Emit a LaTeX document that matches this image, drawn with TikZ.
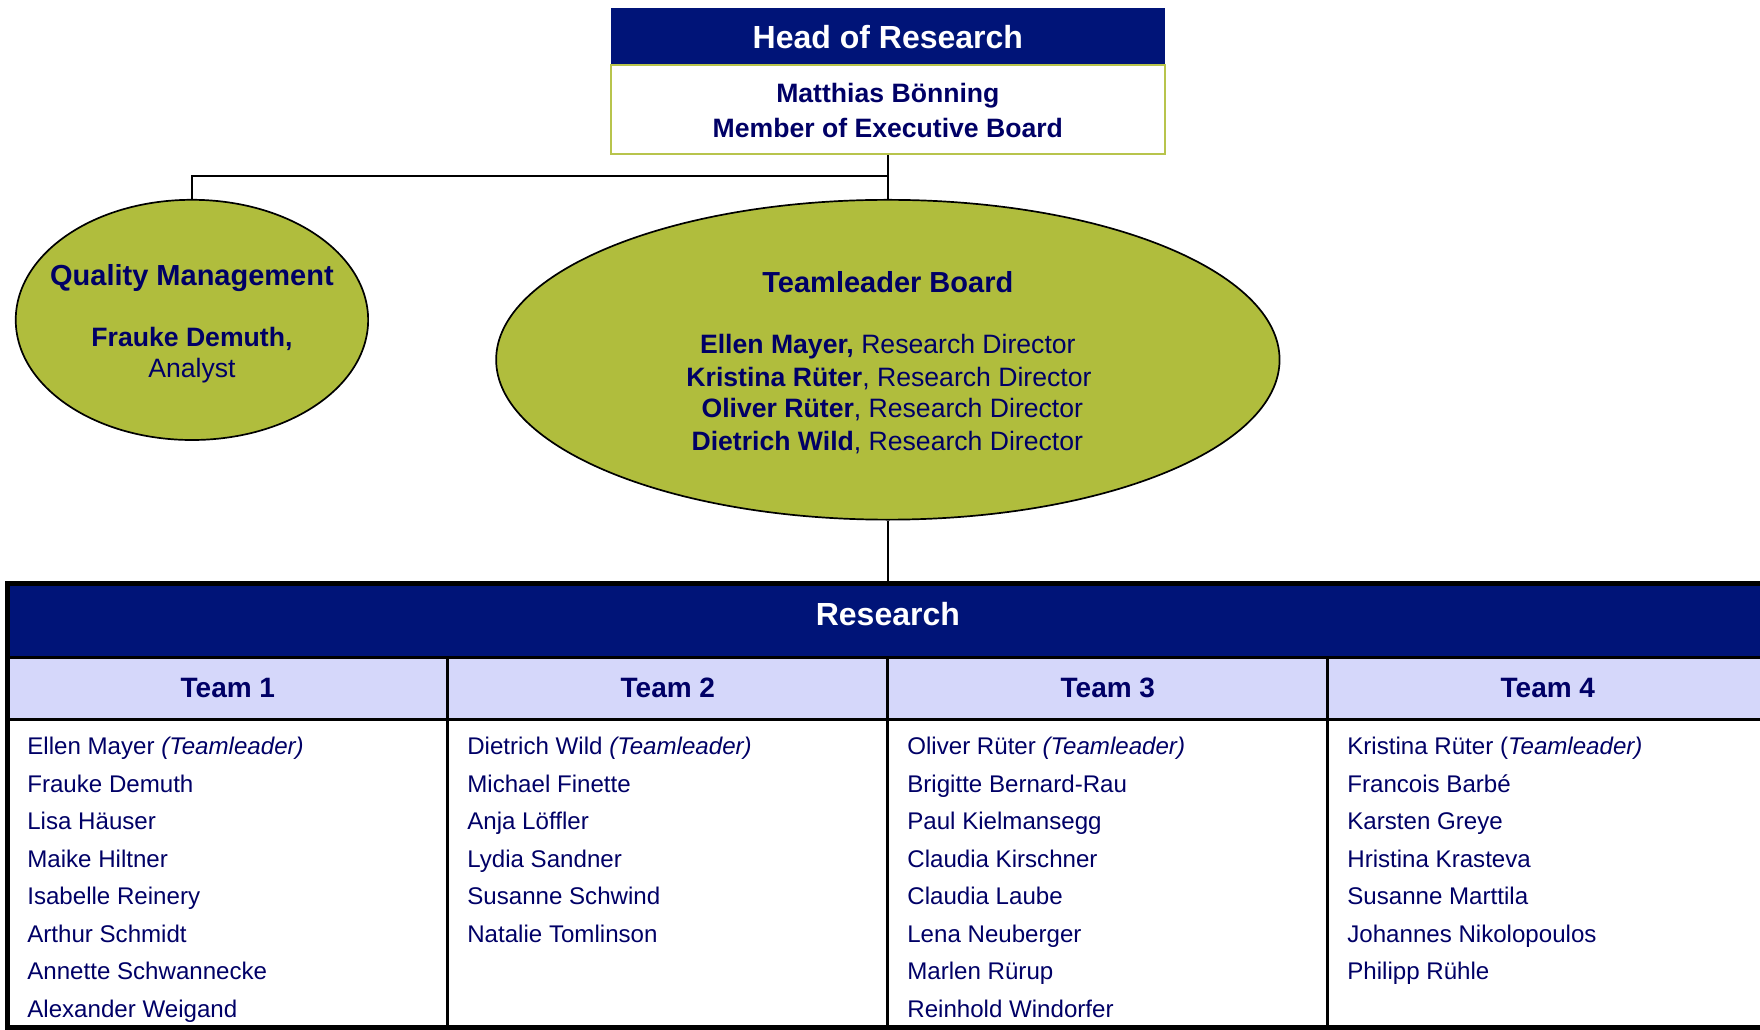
\documentclass[tikz,border=0pt]{standalone}
\usepackage{fontspec}
\setmainfont{Liberation Sans}
\usetikzlibrary{shapes.geometric}
\definecolor{navyhead}{RGB}{0,20,120}
\definecolor{navytext}{RGB}{0,0,102}
\definecolor{olivefill}{RGB}{176,189,61}
\definecolor{olivebox}{RGB}{184,196,76}
\definecolor{lavender}{RGB}{213,215,250}
\begin{document}
\begin{tikzpicture}[x=0.5612pt, y=-0.5612pt,
  conn/.style={line width=0.85pt},
  oval/.style={ellipse, draw, line width=0.85pt, fill=olivefill, inner sep=0pt},
  txt/.style={text=navytext, inner sep=0pt, anchor=base},
  bigtitle/.style={txt, text=white, font=\bfseries\fontsize{16}{19}\selectfont},
  ovaltitle/.style={txt, font=\bfseries\fontsize{14.5}{17}\selectfont},
  body/.style={txt, font=\fontsize{13.3}{16}\selectfont},
  teamtitle/.style={txt, font=\bfseries\fontsize{14}{17}\selectfont},
  member/.style={text=navytext, inner sep=0pt, anchor=base west, font=\fontsize{12.05}{15}\selectfont},
  outerline/.style={line width=2.4pt},
  innerline/.style={line width=1.4pt}]
\useasboundingbox (0,0) rectangle (1568,917);

\node[rectangle, fill=navyhead, minimum width=277.2pt, minimum height=28.6pt, inner sep=0pt] (headbar) at (791,32.5){};
\node[rectangle, draw=olivebox, fill=white, line width=1pt, minimum width=277.2pt, minimum height=44.3pt, inner sep=0pt] (headbox) at (791,97.5){};
\node[bigtitle] (headtitle) at (791,43.5){Head of Research};
\node[body, font=\bfseries\fontsize{13.3}{16}\selectfont] (headname) at (791,91.5){Matthias Bönning};
\node[body, font=\bfseries\fontsize{13.3}{16}\selectfont] (headrole) at (791,122.5){Member of Executive Board};

\node[oval, minimum width=176.2pt, minimum height=120.1pt] (qm) at (171,285){};
\node[ovaltitle] (qmtitle) at (171,254){Quality Management};
\node[body, font=\bfseries\fontsize{13.3}{16}\selectfont] (qmname) at (171,308.5){Frauke Demuth,};
\node[body] (qmrole) at (171,336.5){Analyst};

\node[oval, minimum width=391.7pt, minimum height=159.9pt] (tlb) at (791,320.5){};
\node[ovaltitle] (tlbtitle) at (791,261){Teamleader Board};
\node[body] (tlbone) at (791,315){\textbf{Ellen Mayer,} Research Director};
\node[body] (tlbtwo) at (792,344){\textbf{Kristina Rüter}, Research Director};
\node[body] (tlbthree) at (795,372){\textbf{Oliver Rüter}, Research Director};
\node[body] (tlbfour) at (790.5,401){\textbf{Dietrich Wild}, Research Director};

\coordinate (split) at (791,157);
\coordinate (tabletop) at (791,520);
\draw[conn](headbox.south) -- (split) -| (qm.north);
\draw[conn](split) -- (tlb.north);
\draw[conn](tlb.south) -- (tabletop);

\fill[navyhead] (7,520) rectangle (1575,586);
\fill[lavender] (7,586) rectangle (1575,641);
\draw[innerline] (7,586) -- (1575,586);
\draw[innerline] (7,641) -- (1575,641);
\foreach \x in {399,791,1183}
  \draw[innerline] (\x,586) -- (\x,917);
\draw[outerline] (7,520) rectangle (1575,915.5);

\node[bigtitle] (research) at (791,557.5){Research};
\node[teamtitle] (teamone) at (203,621){Team 1};
\node[teamtitle] (teamtwo) at (595,621){Team 2};
\node[teamtitle] (teamthree) at (987,621){Team 3};
\node[teamtitle] (teamfour) at (1379,621){Team 4};

\foreach \name [count=\i] in {{Ellen Mayer \textit{(Teamleader)}}, Frauke Demuth, Lisa Häuser, Maike Hiltner, Isabelle Reinery, Arthur Schmidt, Annette Schwannecke, Alexander Weigand}
  \node[member] (tone\i) at (24,{672.5+33.4*(\i-1)}){\name};
\foreach \name [count=\i] in {{Dietrich Wild \textit{(Teamleader)}}, Michael Finette, Anja Löffler, Lydia Sandner, Susanne Schwind, Natalie Tomlinson}
  \node[member] (ttwo\i) at (416,{672.5+33.4*(\i-1)}){\name};
\foreach \name [count=\i] in {{Oliver Rüter \textit{(Teamleader)}}, Brigitte Bernard-Rau, Paul Kielmansegg, Claudia Kirschner, Claudia Laube, Lena Neuberger, Marlen Rürup, Reinhold Windorfer}
  \node[member] (tthree\i) at (808,{672.5+33.4*(\i-1)}){\name};
\foreach \name [count=\i] in {{Kristina Rüter (\textit{Teamleader)}}, Francois Barbé, Karsten Greye, Hristina Krasteva, Susanne Marttila, Johannes Nikolopoulos, Philipp Rühle}
  \node[member] (tfour\i) at (1200,{672.5+33.4*(\i-1)}){\name};

\end{tikzpicture}
\end{document}
